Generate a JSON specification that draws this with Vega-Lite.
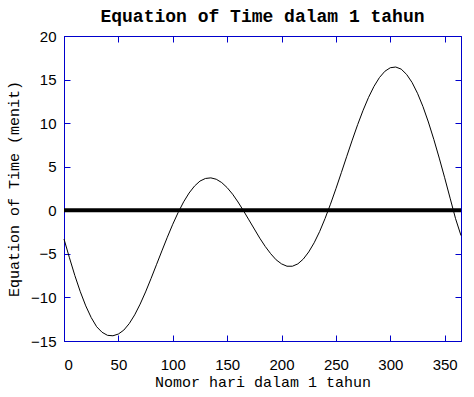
{
  "$schema": "https://vega.github.io/schema/vega-lite/v6.json",
  "width": 397,
  "height": 305,
  "autosize": "none",
  "padding": {"left": 64, "top": 36, "right": 13, "bottom": 56},
  "background": "white",
  "title": {"text": "Equation of Time dalam 1 tahun", "font": "Liberation Mono", "fontSize": 18, "fontWeight": "bold", "color": "black", "offset": 3, "anchor": "middle"},
  "config": {
    "view": {"stroke": "#0000cc", "strokeWidth": 1},
    "axis": {
      "domainColor": "#0000cc",
      "tickColor": "#0000cc",
      "tickSize": -6,
      "tickWidth": 1,
      "grid": false,
      "labelFont": "Liberation Sans",
      "labelFontSize": 15,
      "labelColor": "black",
      "titleFont": "Liberation Mono",
      "titleFontSize": 15,
      "titleFontWeight": "normal",
      "titleColor": "black"
    }
  },
  "data": {"values": [
    {"hari": 0, "eot": -3.3}, {"hari": 5, "eot": -5.45}, {"hari": 10, "eot": -7.5}, {"hari": 15, "eot": -9.35},
    {"hari": 20, "eot": -10.97}, {"hari": 25, "eot": -12.31}, {"hari": 30, "eot": -13.36}, {"hari": 35, "eot": -14.0},
    {"hari": 40, "eot": -14.35}, {"hari": 45, "eot": -14.4}, {"hari": 50, "eot": -14.2}, {"hari": 55, "eot": -13.75},
    {"hari": 60, "eot": -13.0}, {"hari": 65, "eot": -12.0}, {"hari": 70, "eot": -10.77}, {"hari": 75, "eot": -9.37},
    {"hari": 80, "eot": -7.84}, {"hari": 85, "eot": -6.25}, {"hari": 90, "eot": -4.66}, {"hari": 95, "eot": -3.09},
    {"hari": 100, "eot": -1.6}, {"hari": 105, "eot": -0.24}, {"hari": 110, "eot": 0.97}, {"hari": 115, "eot": 1.98},
    {"hari": 120, "eot": 2.78}, {"hari": 125, "eot": 3.35}, {"hari": 130, "eot": 3.65}, {"hari": 135, "eot": 3.72},
    {"hari": 140, "eot": 3.56}, {"hari": 145, "eot": 3.18}, {"hari": 150, "eot": 2.6}, {"hari": 155, "eot": 1.85},
    {"hari": 160, "eot": 0.95}, {"hari": 165, "eot": -0.05}, {"hari": 170, "eot": -1.1}, {"hari": 175, "eot": -2.15},
    {"hari": 180, "eot": -3.2}, {"hari": 185, "eot": -4.15}, {"hari": 190, "eot": -4.98}, {"hari": 195, "eot": -5.68},
    {"hari": 200, "eot": -6.15}, {"hari": 205, "eot": -6.42}, {"hari": 210, "eot": -6.42}, {"hari": 215, "eot": -6.15},
    {"hari": 220, "eot": -5.6}, {"hari": 225, "eot": -4.78}, {"hari": 230, "eot": -3.73}, {"hari": 235, "eot": -2.45},
    {"hari": 240, "eot": -0.95}, {"hari": 245, "eot": 0.7}, {"hari": 250, "eot": 2.47}, {"hari": 255, "eot": 4.32},
    {"hari": 260, "eot": 6.2}, {"hari": 265, "eot": 8.05}, {"hari": 270, "eot": 9.83}, {"hari": 275, "eot": 11.48},
    {"hari": 280, "eot": 12.96}, {"hari": 285, "eot": 14.22}, {"hari": 290, "eot": 15.23}, {"hari": 295, "eot": 15.95},
    {"hari": 300, "eot": 16.36}, {"hari": 305, "eot": 16.44}, {"hari": 310, "eot": 16.2}, {"hari": 315, "eot": 15.59},
    {"hari": 320, "eot": 14.67}, {"hari": 325, "eot": 13.43}, {"hari": 330, "eot": 11.91}, {"hari": 335, "eot": 10.13},
    {"hari": 340, "eot": 8.14}, {"hari": 345, "eot": 5.99}, {"hari": 350, "eot": 3.73}, {"hari": 355, "eot": 1.39},
    {"hari": 360, "eot": -0.96}, {"hari": 365, "eot": -2.9}
  ]},
  "layer": [
    {
      "mark": {"type": "line", "color": "black", "strokeWidth": 1},
      "encoding": {
        "x": {"field": "hari", "type": "quantitative", "scale": {"domain": [0, 365], "nice": false},
              "axis": {"orient": "bottom", "values": [0, 50, 100, 150, 200, 250, 300, 350], "title": "Nomor hari dalam 1 tahun", "labelPadding": 22, "titlePadding": 2}},
        "y": {"field": "eot", "type": "quantitative", "scale": {"domain": [-15, 20], "nice": false},
              "axis": {"orient": "left", "values": [-15, -10, -5, 0, 5, 10, 15, 20], "title": "Equation of Time (menit)", "labelPadding": 14, "titleX": -51, "titleBaseline": "middle"}}
      }
    },
    {
      "mark": {"type": "point", "opacity": 0},
      "encoding": {
        "x": {"field": "hari", "type": "quantitative", "scale": {"domain": [0, 365], "nice": false},
              "axis": {"orient": "top", "values": [0, 50, 100, 150, 200, 250, 300, 350], "labels": false, "title": null}},
        "y": {"field": "eot", "type": "quantitative", "scale": {"domain": [-15, 20], "nice": false},
              "axis": {"orient": "right", "values": [-15, -10, -5, 0, 5, 10, 15, 20], "labels": false, "title": null}}
      }
    },
    {
      "data": {"values": [{}]},
      "mark": {"type": "rule", "color": "black", "strokeWidth": 4},
      "encoding": {"y": {"datum": 0, "type": "quantitative", "axis": null}}
    }
  ],
  "resolve": {"axis": {"x": "independent", "y": "independent"}}
}
